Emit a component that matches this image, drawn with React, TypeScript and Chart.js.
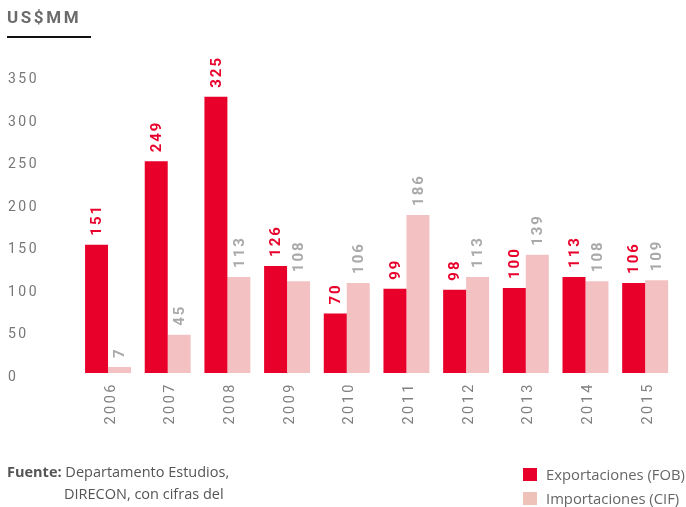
import React, { useEffect, useRef } from "react";
import { Chart, registerables } from "chart.js";

Chart.register(...registerables);

const years = ["2006", "2007", "2008", "2009", "2010", "2011", "2012", "2013", "2014", "2015"];
const exportaciones = [151, 249, 325, 126, 70, 99, 98, 100, 113, 106];
const importaciones = [7, 45, 113, 108, 106, 186, 113, 139, 108, 109];
const seriesNames = ["Exportaciones (FOB)", "Importaciones (CIF)"];
const yMax = 350;
const yStep = 50;

const RED = "#E8002B";
const PINK = "#F4C1C3";
const RED_LABEL = "#E8002B";
const GRAY_LABEL = "#A9A9A9";

const spacingPlugin = {
  id: "spacing",
  beforeDraw(chart: any) {
    (chart.ctx as any).letterSpacing = "2.5px";
  },
};

const valueLabels = {
  id: "valueLabels",
  afterDatasetsDraw(chart: any) {
    const ctx = chart.ctx;
    chart.data.datasets.forEach((ds: any, di: number) => {
      const meta = chart.getDatasetMeta(di);
      meta.data.forEach((bar: any, i: number) => {
        ctx.save();
        (ctx as any).letterSpacing = "2px";
        ctx.font = "700 15px Roboto";
        ctx.fillStyle = di === 0 ? RED_LABEL : GRAY_LABEL;
        ctx.translate(bar.x + 1, bar.y - 9);
        ctx.rotate(-Math.PI / 2);
        ctx.textAlign = "left";
        ctx.textBaseline = "middle";
        ctx.fillText(String(ds.data[i]), 0, 0);
        ctx.restore();
      });
    });
  },
};

function BarChart() {
  const ref = useRef<HTMLCanvasElement | null>(null);
  useEffect(() => {
    if (!ref.current) return;
    const chart = new Chart(ref.current, {
      type: "bar",
      data: {
        labels: years,
        datasets: [
          { label: seriesNames[0], data: exportaciones, backgroundColor: RED },
          { label: seriesNames[1], data: importaciones, backgroundColor: PINK },
        ],
      },
      options: {
        responsive: false,
        animation: false,
        devicePixelRatio: 1,
        layout: { padding: { left: 8, right: 11, top: 75.5, bottom: 0 } },
        datasets: { bar: { categoryPercentage: 0.77, barPercentage: 1.0 } },
        plugins: { legend: { display: false }, tooltip: { enabled: false } },
        scales: {
          x: {
            grid: { display: false, drawTicks: false },
            border: { display: false },
            ticks: {
              minRotation: 90,
              maxRotation: 90,
              padding: 9,
              labelOffset: 3,
              color: "#808080",
              font: { family: "Roboto", size: 14.5 },
            },
            afterFit(axis: any) {
              axis.height = 134;
            },
          },
          y: {
            min: 0,
            max: yMax,
            grid: { display: false, drawTicks: false },
            border: { display: false },
            ticks: {
              stepSize: yStep,
              crossAlign: "far",
              labelOffset: 4,
              color: "#777777",
              font: { family: "Roboto", size: 14 },
            },
            afterFit(axis: any) {
              axis.width = 70.2;
            },
          },
        },
      },
      plugins: [spacingPlugin, valueLabels],
    } as any);
    return () => chart.destroy();
  }, []);
  return <canvas ref={ref} width={686} height={507} style={{ position: "absolute", left: 0, top: 0 }} />;
}

export default function App() {
  return (
    <div style={{ position: "fixed", left: 0, top: 0, width: 686, height: 507, background: "#fff", overflow: "hidden" }}>
      <BarChart />
      <div
        style={{
          position: "absolute",
          left: 7,
          top: 7,
          fontFamily: "Roboto",
          fontWeight: 700,
          fontSize: 17,
          letterSpacing: "2.6px",
          color: "#6b6b6b",
        }}
      >
        US$MM
      </div>
      <div style={{ position: "absolute", left: 7, top: 36, width: 84, height: 2, background: "#111" }} />
      <div
        style={{
          position: "absolute",
          left: 7,
          top: 461,
          fontFamily: "'Open Sans'",
          fontSize: 14.5,
          lineHeight: "22px",
          color: "#555",
        }}
      >
        <div>
          <span style={{ fontWeight: 700 }}>Fuente:</span> Departamento Estudios,
        </div>
        <div style={{ paddingLeft: 57 }}>DIRECON, con cifras del</div>
      </div>
      <div
        style={{
          position: "absolute",
          left: 523,
          top: 462,
          fontFamily: "'Open Sans'",
          fontSize: 14.8,
          lineHeight: "24px",
          color: "#666",
          whiteSpace: "nowrap",
        }}
      >
        {seriesNames.map((n, i) => (
          <div key={n} style={{ display: "flex", alignItems: "center" }}>
            <span
              style={{
                display: "inline-block",
                width: 14,
                height: 13,
                background: i === 0 ? RED : "#EEC2B9",
                marginRight: 9,
              }}
            />
            {n}
          </div>
        ))}
      </div>
    </div>
  );
}
